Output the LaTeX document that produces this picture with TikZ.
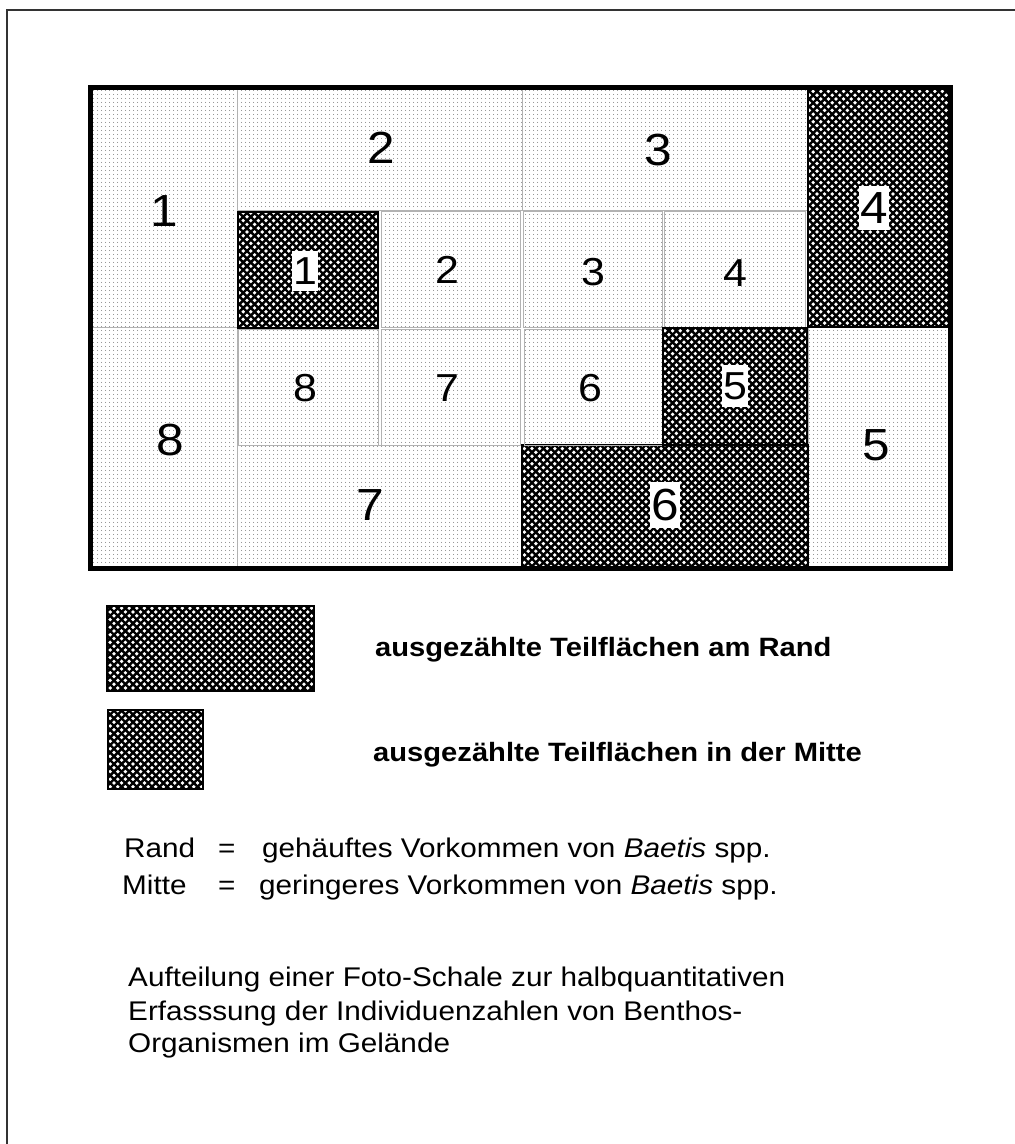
\documentclass[tikz,border=0pt]{standalone}
\usepackage{fontspec}
\setmainfont{Liberation Sans}[FakeStretch=1.1]
\usetikzlibrary{patterns, positioning}

\pgfdeclarepatternformonly{xhatch}{\pgfqpoint{-1pt}{-1pt}}{\pgfqpoint{8.6pt}{8.6pt}}{\pgfqpoint{7.6pt}{7.6pt}}{%
  \pgfsetlinewidth{2.4pt}%
  \pgfpathmoveto{\pgfqpoint{-1pt}{-1pt}}\pgfpathlineto{\pgfqpoint{8.6pt}{8.6pt}}%
  \pgfpathmoveto{\pgfqpoint{-1pt}{8.6pt}}\pgfpathlineto{\pgfqpoint{8.6pt}{-1pt}}%
  \pgfusepath{stroke}}
\pgfdeclarepatternformonly{fdots}{\pgfqpoint{0pt}{0pt}}{\pgfqpoint{4pt}{4pt}}{\pgfqpoint{4pt}{4pt}}{%
  \pgfpathcircle{\pgfqpoint{2pt}{2pt}}{0.6pt}\pgfusepath{fill}}

\begin{document}
\begin{tikzpicture}[
    x=1pt, y=-1pt,
    field/.style={draw=gray!60, line width=0.8pt, pattern=fdots, pattern color=black!55},
    counted/.style={draw=black, line width=1.6pt, pattern=xhatch},
    inner counted/.style={counted, line width=2.6pt},
    numout/.style={font=\fontsize{45}{45}\selectfont, inner sep=0pt},
    numin/.style={font=\fontsize{39}{39}\selectfont, inner sep=0pt},
    tag/.style={fill=white, inner xsep=1pt, inner ysep=7pt},
    legtext/.style={anchor=west, inner sep=0pt, font=\fontsize{26.5}{30}\selectfont\bfseries},
    note/.style={anchor=base west, inner sep=0pt, font=\fontsize{27}{30}\selectfont}
]
\useasboundingbox (0,0) rectangle (1015,1144);
\draw[line width=1.2pt, black!80] (7,1144) -- (7,10) -- (1015,10);

% outer ring
\draw[field] (90,87) rectangle (237,327);
\draw[field] (237,87) rectangle (522,210);
\draw[field] (522,87) rectangle (808,210);
\draw[field] (808,327) rectangle (950,568);
\draw[field] (237,445) rectangle (522,568);
\draw[field] (90,327) rectangle (237,568);
\draw[counted] (808,87) rectangle (950,327);
\draw[counted] (522,445) rectangle (808,568);

% inner cells
\draw[field] (381,211) rectangle (520,327);
\draw[field] (523,211) rectangle (662,327);
\draw[field] (664,211) rectangle (805,327);
\draw[field] (524,329) rectangle (662,445);
\draw[field] (381,329) rectangle (520,445);
\draw[field] (238,329) rectangle (378,445);
\draw[inner counted] (238,212) rectangle (378,328);
\draw[inner counted] (663,328) rectangle (807,445);

\draw[line width=5pt] (90,87) rectangle (950,568);

\node (o1) [numout] at (164,211) {1};
\node (o2) [numout] at (381,148) {2};
\node (o3) [numout] at (658,150) {3};
\node (o4) [numout, tag] at (874,208) {4};
\node (o5) [numout] at (876,445) {5};
\node (o6) [numout, tag] at (665,505) {6};
\node (o7) [numout] at (370,505) {7};
\node (o8) [numout] at (170,440) {8};

\node (i1) [numin, tag] at (305,271) {1};
\node (i2) [numin] at (447,270) {2};
\node (i3) [numin] at (593,272) {3};
\node (i4) [numin] at (735,273) {4};
\node (i5) [numin, tag] at (735,386) {5};
\node (i6) [numin] at (590,388) {6};
\node (i7) [numin] at (447,388) {7};
\node (i8) [numin] at (305,388) {8};

% legend
\draw[counted] (107,606) rectangle (314,691);
\draw[counted] (108,710) rectangle (203,789);
\node (rand) [legtext] at (375,650) {ausgezählte Teilflächen am Rand};
\node (mitte) [legtext] at (373,755) {ausgezählte Teilflächen in der Mitte};

\node (k1) [note] at (124,857) {Rand};
\node (k1eq) [note] at (218,857) {=};
\node (k1txt) [note] at (262,857) {gehäuftes Vorkommen von \textit{Baetis} spp.};
\node (k2) [note] at (122,894) {Mitte};
\node (k2eq) [note] at (218,894) {=};
\node (k2txt) [note] at (259,894) {geringeres Vorkommen von \textit{Baetis} spp.};

\node (c1) [note] at (128,986) {Aufteilung einer Foto-Schale zur halbquantitativen};
\node (c2) [note] at (128,1020) {Erfasssung der Individuenzahlen von Benthos-};
\node (c3) [note] at (128,1052) {Organismen im Gelände};
\end{tikzpicture}
\end{document}
